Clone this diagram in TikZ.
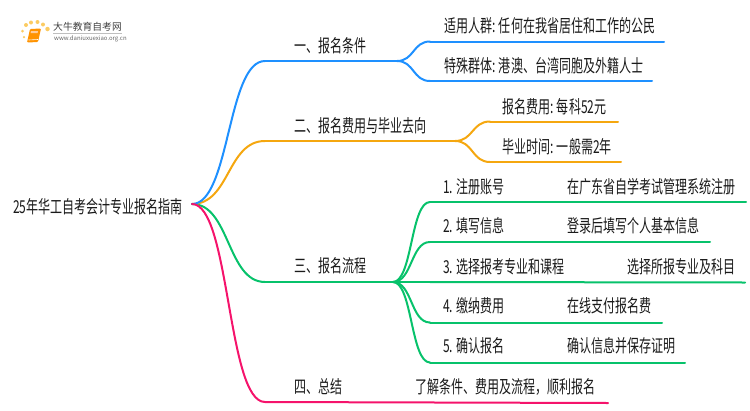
\documentclass[tikz,border=0pt]{standalone}
\usepackage{fontspec}
\setmainfont{Noto Sans CJK SC}[FakeStretch=0.675]
\newfontfamily\logofont{Noto Sans CJK SC}
\definecolor{cblue}{HTML}{1E90FF}
\definecolor{corange}{HTML}{F5A70F}
\definecolor{cgreen}{HTML}{07C26B}
\definecolor{cpink}{HTML}{F5136B}
\definecolor{ctext}{HTML}{1A1A1A}
\definecolor{cdot}{HTML}{FBCB62}
\tikzset{
  lab/.style={anchor=west,inner sep=0pt,outer sep=0pt,text=ctext,font=\fontsize{17.8}{18}\selectfont},
  link/.style={line width=2pt,line cap=round},
  dotm/.style={circle,fill=cdot,inner sep=0pt,minimum size=#1},
}
\newcommand{\scurve}[3]{\draw[link,#1] (#2) .. controls ($(#2)!0.52!(#2-|#3)$) and ($(#3)!0.52!(#3-|#2)$) .. (#3);}
\usetikzlibrary{calc}
\begin{document}
\begin{tikzpicture}[x=1pt,y=-1pt]
\useasboundingbox (0,0) rectangle (750,410);
% logo
\fill[orange!85!yellow,rounded corners=1pt] (27,42.5) -- (30,29) -- (41,28.5) -- (38,42) -- cycle;
\draw[white,line width=0.6pt] (28.5,40) -- (38,39.5);
\fill[white!60!orange] (31,31) -- (38,31) -- (37.6,33) -- (30.6,33) -- cycle;
\node[dotm=4pt] (d1) at (26,25) {};
\node[dotm=3pt] (d2) at (22.5,31) {};
\node[dotm=2.5pt] (d3) at (24,37) {};
\node[dotm=4pt] (d4) at (31,22.5) {};
\node[dotm=4pt] (d5) at (37.5,22) {};
\node[dotm=4pt] (d6) at (43,24.5) {};
\node[dotm=4.5pt] (d7) at (47.5,29) {};
\node[anchor=west,inner sep=0pt,text=black!75,font=\logofont\fontsize{9.8}{10}\selectfont] (lt) at (53,27) {大牛教育自考网};
\draw[black!25,line width=0.6pt] (53,33) -- (122,33);
\node[anchor=west,inner sep=0pt,text=black!60,font=\logofont\fontsize{6}{7}\selectfont] (lu) at (54,38.7) {www.daniuxuexiao.org.cn};
% root
\node[lab] (root) at (13,207) {25年华工自考会计专业报名指南};
\coordinate (r) at (192,204);
% labels
\node[lab] (a) at (294,46) {一、报名条件};
\node[lab] (b) at (294,126) {二、报名费用与毕业去向};
\node[lab] (c) at (294,266) {三、报名流程};
\node[lab] (d) at (294,387) {四、总结};
\node[lab] (a1) at (444,26) {适用人群: 任何在我省居住和工作的公民};
\node[lab] (a2) at (444,66) {特殊群体: 港澳、台湾同胞及外籍人士};
\node[lab] (b1) at (502,107) {报名费用: 每科52元};
\node[lab] (b2) at (502,147) {毕业时间: 一般需2年};
\node[lab] (c1) at (443,187) {1. 注册账号};
\node[lab] (c1r) at (567,187) {在广东省自学考试管理系统注册};
\node[lab] (c2) at (443,226) {2. 填写信息};
\node[lab] (c2r) at (567,226) {登录后填写个人基本信息};
\node[lab] (c3) at (443,267) {3. 选择报考专业和课程};
\node[lab] (c3r) at (627,267) {选择所报专业及科目};
\node[lab] (c4) at (443,306) {4. 缴纳费用};
\node[lab] (c4r) at (567,306) {在线支付报名费};
\node[lab] (c5) at (443,346) {5. 确认报名};
\node[lab] (c5r) at (567,346) {确认信息并保存证明};
\node[lab] (d1t) at (415,387) {了解条件、费用及流程，顺利报名};
% junctions and ends
\coordinate (as) at (265,61); \coordinate (ae) at (397,61);
\coordinate (a1s) at (430,41.5); \coordinate (a1e) at (664,41.5);
\coordinate (a2s) at (430,81); \coordinate (a2e) at (652,81);
\coordinate (bs) at (265,141); \coordinate (be) at (455,141);
\coordinate (b1s) at (490,121.5); \coordinate (b1e) at (618,121.5);
\coordinate (b2s) at (490,162); \coordinate (b2e) at (621,162);
\coordinate (cs) at (265,282); \coordinate (ce) at (393,282);
\coordinate (c1s) at (430,202); \coordinate (c1e) at (746,202);
\coordinate (c2s) at (430,242); \coordinate (c2e) at (710,242);
\coordinate (c3s) at (430,282); \coordinate (c3e) at (745,282.5);
\coordinate (c4s) at (430,322.5); \coordinate (c4e) at (662,322.5);
\coordinate (c5s) at (430,362.5); \coordinate (c5e) at (685,362.5);
\coordinate (ds) at (265,402); \coordinate (de) at (608,403);
% connectors
\scurve{cgreen}{r}{cs}
\scurve{corange}{r}{bs}
\scurve{cblue}{r}{as}
\scurve{cpink}{r}{ds}
\draw[link,cblue] (as) -- (ae);
\draw[link,corange] (bs) -- (be);
\draw[link,cgreen] (cs) -- (ce);
\draw[link,cpink] (ds) -- (de);
\scurve{cblue}{ae}{a1s} \scurve{cblue}{ae}{a2s}
\draw[link,cblue] (a1s) -- (a1e); \draw[link,cblue] (a2s) -- (a2e);
\scurve{corange}{be}{b1s} \scurve{corange}{be}{b2s}
\draw[link,corange] (b1s) -- (b1e); \draw[link,corange] (b2s) -- (b2e);
\scurve{cgreen}{ce}{c1s} \scurve{cgreen}{ce}{c2s} \scurve{cgreen}{ce}{c4s} \scurve{cgreen}{ce}{c5s}
\draw[link,cgreen] (ce) -- (c3s);
\draw[link,cgreen] (c1s) -- (c1e); \draw[link,cgreen] (c2s) -- (c2e);
\draw[link,cgreen] (c3s) -- (c3e); \draw[link,cgreen] (c4s) -- (c4e); \draw[link,cgreen] (c5s) -- (c5e);
\end{tikzpicture}
\end{document}
